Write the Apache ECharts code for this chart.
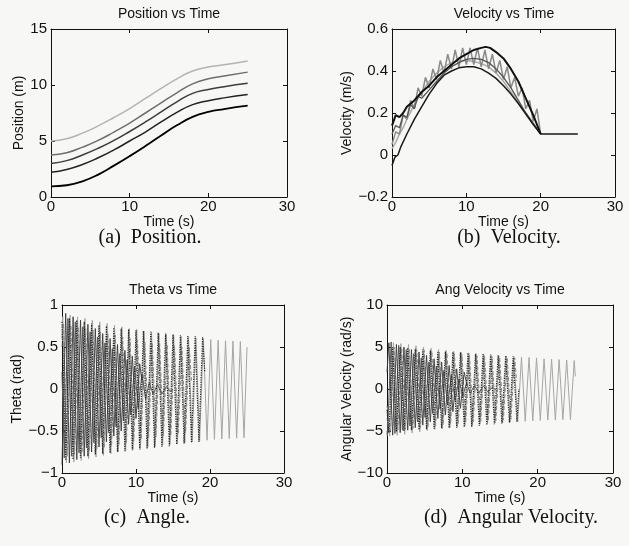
<!DOCTYPE html>
<html><head><meta charset="utf-8">
<script src="https://cdn.jsdelivr.net/npm/echarts/dist/echarts.min.js"></script>
<style>html,body{margin:0;padding:0;background:#f7f7f5}#c{width:629px;height:546px}</style>
</head><body><div id="c"></div>
<script>
// ---------- (a) Position ----------
const posTime = [0,2,4,6,8,10,12,14,16,18,20,22,25];
const posLine1 = [0.95,1.05,1.4,2.0,2.8,3.65,4.55,5.5,6.4,7.15,7.6,7.85,8.15];
const posLine2 = [2.2,2.45,2.9,3.5,4.2,5.0,5.8,6.7,7.55,8.25,8.6,8.85,9.15];
const posLine3 = [3.0,3.25,3.75,4.35,5.05,5.85,6.7,7.6,8.5,9.25,9.6,9.85,10.15];
const posLine4 = [3.75,3.95,4.45,5.05,5.8,6.6,7.5,8.4,9.3,10.1,10.55,10.8,11.15];
const posLine5 = [5.0,5.2,5.7,6.35,7.1,7.9,8.8,9.7,10.55,11.25,11.6,11.8,12.15];

// ---------- (b) Velocity ([t, v]) ----------
const velBlackTop = [[0,0.14],[0.5,0.19],[1,0.18],[1.5,0.2],[2,0.23],[3,0.26],[4,0.3],[5,0.33],[6,0.37],[7,0.4],[8,0.43],[9,0.46],[10,0.48],[11,0.5],[12,0.51],[12.6,0.515],[13.2,0.51],[14,0.49],[15,0.46],[16,0.41],[17,0.35],[18,0.27],[19,0.19],[20,0.1]];
const velBlackLow = [[0,-0.05],[0.4,-0.01],[0.8,0.0],[1.2,0.04],[2,0.1],[3,0.17],[4,0.23],[5,0.29],[6,0.34],[7,0.38],[8,0.4],[9,0.415],[10,0.42],[11,0.42],[12,0.41],[13,0.39],[14,0.365],[15,0.33],[16,0.29],[17,0.245],[18,0.195],[19,0.145],[20,0.1],[25,0.1]];
const velGreyZig = [[0,0.05],[0.5,0.11],[1,0.1],[1.5,0.19],[2,0.17],[2.5,0.26],[3,0.22],[3.5,0.32],[4,0.28],[4.5,0.37],[5,0.32],[5.5,0.41],[6,0.36],[6.5,0.45],[7,0.39],[7.5,0.48],[8,0.41],[8.5,0.5],[9,0.42],[9.5,0.51],[10,0.43],[10.5,0.51],[11,0.43],[11.5,0.51],[12,0.42],[12.5,0.5],[13,0.41],[13.5,0.48],[14,0.39],[14.5,0.45],[15,0.36],[15.5,0.42],[16,0.32],[16.5,0.37],[17,0.28],[17.5,0.32],[18,0.22],[18.5,0.26],[19,0.16],[19.5,0.22],[20,0.1]];
const velLight = [[0,0.03],[0.5,0.06],[1,0.1],[1.5,0.13],[2,0.17],[3,0.24],[4,0.3],[5,0.35],[6,0.39],[7,0.42],[8,0.44],[9,0.45],[10,0.45],[11,0.445],[12,0.435],[13,0.42],[14,0.39],[15,0.35],[16,0.3],[17,0.25],[18,0.2],[19,0.15],[20,0.1]];
const velDark = [[0,0.1],[0.5,0.14],[1,0.13],[1.5,0.19],[2,0.18],[2.5,0.24],[3,0.22],[3.5,0.28],[4,0.27],[5,0.31],[6,0.35],[7,0.39],[8,0.42],[9,0.44],[10,0.455],[11,0.46],[12,0.455],[13,0.44],[14,0.41],[15,0.37],[16,0.32],[17,0.26],[18,0.2],[19,0.15],[20,0.1]];

// ---------- (c) Theta ([t, rad]) ----------
const thetaLight = [[0,0.6],[0.1,0.86],[0.6,-0.88],[1.1,0.88],[1.6,-0.87],[2.1,0.86],[2.6,-0.85],[3.1,0.84],[3.6,-0.83],[4.1,0.82],[4.6,-0.81],[5.1,0.8],[5.6,-0.79],[6.1,0.78],[6.6,-0.77],[7.1,0.76],[7.6,-0.75],[8.1,0.74],[8.6,-0.74],[9.1,0.72],[9.6,-0.72],[10.1,0.71],[10.6,-0.71],[11.1,0.69],[11.6,-0.69],[12.1,0.68],[12.6,-0.68],[13.1,0.66],[13.6,-0.67],[14.1,0.65],[14.6,-0.66],[15.1,0.64],[15.6,-0.65],[16.1,0.63],[16.6,-0.64],[17.1,0.62],[17.6,-0.63],[18.1,0.61],[18.6,-0.62],[19.1,0.6],[19.6,-0.61],[20.1,0.59],[20.6,-0.6],[21.1,0.58],[21.6,-0.595],[22.1,0.575],[22.6,-0.59],[23.1,0.57],[23.6,-0.585],[24.1,0.565],[24.6,-0.58],[25,0.5]];
const thetaDotted = [[0,0.8],[0.5,-0.85],[1,0.84],[1.5,-0.84],[2,0.82],[2.5,-0.82],[3,0.8],[3.5,-0.8],[4,0.78],[4.5,-0.78],[5,0.76],[5.5,-0.77],[6,0.75],[6.5,-0.76],[7,0.73],[7.5,-0.75],[8,0.72],[8.5,-0.74],[9,0.71],[9.5,-0.73],[10,0.7],[10.5,-0.72],[11,0.69],[11.5,-0.71],[12,0.68],[12.5,-0.7],[13,0.67],[13.5,-0.69],[14,0.66],[14.5,-0.68],[15,0.65],[15.5,-0.66],[16,0.64],[16.5,-0.65],[17,0.63],[17.5,-0.64],[18,0.63],[18.5,-0.63],[19,0.62],[19.3,0.2]];
const thetaDark = [[0,0.2],[0.3,-0.82],[0.8,0.84],[1.3,-0.8],[1.8,0.8],[2.3,-0.76],[2.8,0.74],[3.3,-0.7],[3.8,0.68],[4.3,-0.64],[4.8,0.62],[5.3,-0.58],[5.8,0.55],[6.3,-0.52],[6.8,0.48],[7.3,-0.45],[7.8,0.42],[8.3,-0.38],[8.8,0.35],[9.3,-0.31],[9.8,0.27],[10.3,-0.23],[10.8,0.18],[11.3,-0.12],[11.8,0.08],[12.3,-0.06],[12.9,0.05],[13.5,-0.06],[14.1,0.03],[14.6,-0.03],[15,0]];
const thetaDashed = [[0,0.5],[0.2,0.78],[0.7,-0.8],[1.2,0.76],[1.7,-0.78],[2.2,0.74],[2.7,-0.76],[3.2,0.72],[3.7,-0.74],[4.2,0.7],[4.7,-0.72],[5.2,0.68],[5.7,-0.7],[6.2,0.66],[6.7,-0.68],[7.2,0.64],[7.7,-0.66],[8.2,0.62],[8.7,-0.64],[9.2,0.6],[9.7,-0.62],[10.2,0.58],[10.7,-0.6],[11.2,0.56],[11.7,-0.58],[12.2,0.55],[12.7,-0.57],[13.2,0.54],[13.7,-0.56],[14.2,0.53],[14.7,-0.55],[15.2,0.52],[15.7,-0.54],[16.2,0.5],[16.7,-0.52],[17.2,0.5],[17.5,0.1]];
const thetaBlack = [[0,-0.9],[0.5,0.9],[1,-0.88],[1.5,0.86],[2,-0.84],[2.5,0.82],[3,-0.8],[3.5,0.77],[4,-0.75],[4.5,0.72],[5,-0.69],[5.5,0.66],[6,-0.63],[6.5,0.6],[7,-0.56],[7.5,0.53],[8,-0.5],[8.5,0.46],[9,-0.42],[9.5,0.39],[10,-0.35],[10.5,0.3],[10.8,0.1]];

// ---------- (d) Angular velocity ([t, rad/s]) ----------
const angLight = [[0,-3.5],[0.35,-5.6],[0.85,5.5],[1.35,-5.5],[1.85,5.4],[2.35,-5.4],[2.85,5.3],[3.35,-5.25],[3.85,5.15],[4.35,-5.1],[4.85,5.0],[5.35,-4.95],[5.85,4.85],[6.35,-4.8],[6.85,4.7],[7.35,-4.7],[7.85,4.6],[8.35,-4.6],[8.85,4.5],[9.35,-4.5],[9.85,4.4],[10.35,-4.4],[10.85,4.3],[11.35,-4.3],[11.85,4.2],[12.35,-4.2],[12.85,4.1],[13.35,-4.1],[13.85,4.0],[14.35,-4.05],[14.85,3.95],[15.35,-4.0],[15.85,3.9],[16.35,-3.95],[16.85,3.85],[17.35,-3.9],[17.85,3.8],[18.35,-3.85],[18.85,3.75],[19.35,-3.8],[19.85,3.7],[20.35,-3.75],[20.85,3.6],[21.35,-3.7],[21.85,3.55],[22.35,-3.7],[22.85,3.5],[23.35,-3.65],[23.85,3.45],[24.35,-3.65],[24.85,3.4],[25,1.5]];
const angDotted = [[0,-2.5],[0.25,-5.2],[0.75,5.0],[1.25,-5.1],[1.75,5.0],[2.25,-5.0],[2.75,4.9],[3.25,-4.9],[3.75,4.8],[4.25,-4.85],[4.75,4.7],[5.25,-4.8],[5.75,4.6],[6.25,-4.75],[6.75,4.5],[7.25,-4.7],[7.75,4.45],[8.25,-4.65],[8.75,4.4],[9.25,-4.6],[9.75,4.35],[10.25,-4.55],[10.75,4.3],[11.25,-4.5],[11.75,4.2],[12.25,-4.4],[12.75,4.15],[13.25,-4.3],[13.75,4.1],[14.25,-4.2],[14.75,4.0],[15.25,-4.1],[15.75,3.95],[16.25,-4.0],[16.75,3.9],[17.25,-3.9],[17.5,0]];
const angDark = [[0,-5.0],[0.05,-5.6],[0.55,5.6],[1.05,-5.3],[1.55,5.2],[2.05,-4.9],[2.55,4.7],[3.05,-4.4],[3.55,4.2],[4.05,-3.9],[4.55,3.7],[5.05,-3.4],[5.55,3.2],[6.05,-2.9],[6.55,2.7],[7.05,-2.4],[7.55,2.2],[8.05,-1.9],[8.55,1.7],[9.05,-1.4],[9.55,1.2],[10.05,-0.9],[10.55,0.7],[11.05,-0.5],[11.6,0.4],[12.2,-0.45],[12.8,0.35],[13.4,-0.35],[14.0,0.2],[14.5,-0.1]];
const angDashed = [[0,-2.0],[0.45,-5.0],[0.95,5.0],[1.45,-4.9],[1.95,4.9],[2.45,-4.8],[2.95,4.8],[3.45,-4.7],[3.95,4.7],[4.45,-4.6],[4.95,4.6],[5.45,-4.5],[5.95,4.5],[6.45,-4.4],[6.95,4.4],[7.45,-4.3],[7.95,4.3],[8.45,-4.2],[8.95,4.2],[9.45,-4.1],[9.95,4.1],[10.45,-4.0],[10.95,4.0],[11.45,-3.9],[11.95,3.95],[12.45,-3.85],[12.95,3.9],[13.45,-3.8],[13.95,3.85],[14.45,-3.75],[14.95,3.8],[15.45,-3.7],[15.95,3.75],[16.45,-3.6],[16.95,3.7],[17.2,1.0]];
const angBlack = [[0,2.0],[0.25,5.5],[0.75,-5.5],[1.25,5.3],[1.75,-5.2],[2.25,5.0],[2.75,-4.9],[3.25,4.7],[3.75,-4.6],[4.25,4.4],[4.75,-4.3],[5.25,4.0],[5.75,-3.9],[6.25,3.6],[6.75,-3.5],[7.25,3.2],[7.75,-3.1],[8.25,2.8],[8.75,-2.7],[9.25,2.4],[9.75,-2.3],[10.25,2.0],[10.6,0.5]];

// ---------- text ----------
const plotTitles = ['Position vs Time','Velocity vs Time','Theta vs Time','Ang Velocity vs Time'];
const yNames = ['Position (m)','Velocity (m/s)','Theta (rad)','Angular Velocity (rad/s)'];
const xName = 'Time (s)';
const captions = ['(a)  Position.','(b)  Velocity.','(c)  Angle.','(d)  Angular Velocity.'];
const xRange = [0, 30, 10];
const yRanges = [[0,15,5],[-0.2,0.6,0.2],[-1,1,0.5],[-10,10,5]];

const SANS = "'Liberation Sans', Arial, Helvetica, sans-serif";
const SERIF = "'Liberation Serif', 'Times New Roman', serif";
const grids = [
  {left:51, top:29, width:236, height:168},
  {left:392, top:29, width:223, height:168},
  {left:62, top:305, width:222, height:168},
  {left:387, top:305, width:226, height:168}
];
const yGaps = [21, 33, 30, 33];
const titlePos = [[169,14],[504,14],[173,290],[500,290]];
const capPos = [[150,238],[509,238],[147,518],[511,518]];

const fmt = v => { const r = Math.round(v*10)/10; return String(r).replace('-', '\u2212'); };
const axLine = {show:true, onZero:false, lineStyle:{color:'#111', width:1}};
const tick = {show:true, inside:true, length:4, lineStyle:{color:'#111', width:1}};

const xAxis = [], yAxis = [];
grids.forEach((g, i) => {
  xAxis.push({type:'value', gridIndex:i, position:'bottom', min:xRange[0], max:xRange[1], interval:xRange[2],
    axisLine:axLine, axisTick:tick, splitLine:{show:false},
    axisLabel:{color:'#111', fontSize:15, fontFamily:SANS, margin:2, formatter:fmt},
    name:xName, nameLocation:'middle', nameGap:15, nameTextStyle:{color:'#111', fontSize:14, fontFamily:SANS}});
  xAxis.push({type:'value', gridIndex:i, position:'top', min:xRange[0], max:xRange[1], interval:xRange[2],
    axisLine:axLine, axisTick:tick, splitLine:{show:false}, axisLabel:{show:false}});
  const yr = yRanges[i];
  yAxis.push({type:'value', gridIndex:i, position:'left', min:yr[0], max:yr[1], interval:yr[2],
    axisLine:axLine, axisTick:tick, splitLine:{show:false},
    axisLabel:{color:'#111', fontSize:15, fontFamily:SANS, margin:4, formatter:fmt},
    name:yNames[i], nameLocation:'middle', nameGap:yGaps[i], nameTextStyle:{color:'#111', fontSize:14, fontFamily:SANS}});
  yAxis.push({type:'value', gridIndex:i, position:'right', min:yr[0], max:yr[1], interval:yr[2],
    axisLine:axLine, axisTick:tick, splitLine:{show:false}, axisLabel:{show:false}});
});

function line(gi, data, color, width, type, smooth) {
  return {type:'line', xAxisIndex:gi*2, yAxisIndex:gi*2, data:data, symbol:'none', smooth:!!smooth,
    lineStyle:{color:color, width:width, type:type||'solid'}, silent:true, z:3};
}
const zip = (xs, ys) => xs.map((x, k) => [x, ys[k]]);

const series = [
  line(0, zip(posTime, posLine5), '#b4b4b4', 1.5, 'solid', true),
  line(0, zip(posTime, posLine4), '#6e6e6e', 1.5, 'solid', true),
  line(0, zip(posTime, posLine3), '#3c3c3c', 1.5, 'solid', true),
  line(0, zip(posTime, posLine2), '#222', 1.5, 'solid', true),
  line(0, zip(posTime, posLine1), '#000', 1.8, 'solid', true),

  line(1, velLight, '#aaaaaa', 1.5),
  line(1, velGreyZig, '#8a8a8a', 1.5),
  line(1, velDark, '#555555', 1.3),
  line(1, velBlackLow, '#1a1a1a', 1.5),
  line(1, velBlackTop, '#111111', 2),

  line(2, thetaLight, '#a6a6a6', 1),
  line(2, thetaDashed, '#8a8a8a', 1, 'dashed'),
  line(2, thetaDark, '#5a5a5a', 1),
  line(2, thetaBlack, '#3a3a3a', 0.9),
  line(2, thetaDotted, '#222222', 1.2, 'dotted'),

  line(3, angLight, '#a6a6a6', 1),
  line(3, angDashed, '#8a8a8a', 1, 'dashed'),
  line(3, angDark, '#5a5a5a', 1),
  line(3, angBlack, '#3a3a3a', 0.9),
  line(3, angDotted, '#222222', 1.2, 'dotted')
];

const graphic = [];
plotTitles.forEach((t, i) => graphic.push({type:'text', x:titlePos[i][0], y:titlePos[i][1],
  style:{text:t, fill:'#111', font:'14px ' + SANS, textAlign:'center', textVerticalAlign:'middle'}}));
captions.forEach((t, i) => graphic.push({type:'text', x:capPos[i][0], y:capPos[i][1],
  style:{text:t, fill:'#111', font:'20px ' + SERIF, textAlign:'center', textVerticalAlign:'middle'}}));

const chart = echarts.init(document.getElementById('c'), null, {renderer:'canvas'});
chart.setOption({
  backgroundColor:'#f7f7f5',
  animation:false,
  grid: grids.map(g => Object.assign({containLabel:false}, g)),
  xAxis: xAxis, yAxis: yAxis, series: series, graphic: graphic
});
</script></body></html>
